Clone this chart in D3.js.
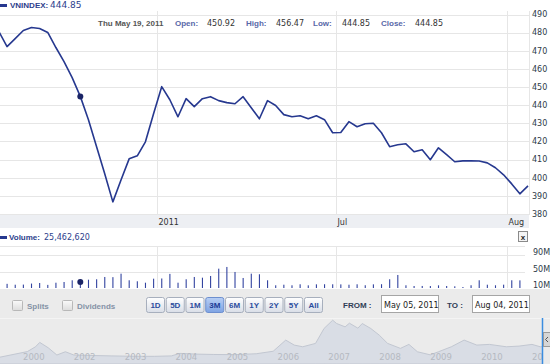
<!DOCTYPE html>
<html>
<head>
<meta charset="utf-8">
<script src="https://cdn.jsdelivr.net/npm/d3@7"></script>
<style>
  body { margin: 0; background: #fff; }
  svg { display: block; font-family: 'DejaVu Sans', Verdana, sans-serif; }
  .bold { font-family: 'Liberation Sans', Arial, sans-serif; font-weight: bold; font-size: 8px; }
</style>
</head>
<body>
<svg id="chart" width="550" height="364"></svg>
<script>
// Data
const symbol = 'VNINDEX';
const startDate = '2011-05-05';
const closes = [
  480.6, 472.3, 476.7, 481.2, 482.8, 482.3, 480.1, 471.8, 464.0, 455.2,
  444.85, 432.0, 417.1, 402.2, 386.7, 398.8, 410.4, 412.1, 419.8, 435.3,
  450.2, 443.0, 433.6, 443.6, 439.2, 443.6, 444.7, 442.5, 441.4, 440.8,
  444.7, 438.6, 432.5, 442.5, 439.8, 434.8, 433.6, 434.2, 432.5, 434.2,
  432.0, 424.8, 424.9, 430.9, 428.1, 429.8, 430.0, 424.8, 417.1, 418.2,
  418.7, 414.3, 415.4, 409.9, 416.5, 412.7, 408.8, 409.3, 409.4, 409.2,
  408.2, 405.5, 401.6, 396.6, 391.1, 395.5
];
// volume in millions
const volumes = [
  21.3, 21.0, 18.9, 19.2, 21.6, 23.0, 18.5, 23.7, 25.4, 29.5,
  25.46, 30.9, 31.9, 37.4, 37.0, 45.3, 29.5, 27.1, 23.7, 33.3,
  33.8, 44.8, 23.7, 31.9, 37.4, 35.7, 39.8, 57.3, 61.4, 49.4,
  35.0, 45.3, 43.9, 29.5, 17.5, 18.9, 17.5, 19.9, 17.4, 19.8,
  20.0, 19.9, 19.7, 18.9, 19.9, 17.6, 19.8, 20.1, 31.9, 42.2,
  17.5, 15.8, 15.9, 15.7, 17.4, 15.8, 15.1, 13.4, 17.6, 29.5,
  18.9, 17.5, 19.0, 29.5, 29.3, 28.0
];
const priceTicks = [380, 390, 400, 410, 420, 430, 440, 450, 460, 470, 480, 490];
const monthLabels = ['2011', 'Jul', 'Aug'];
const volumeTicks = [10, 50, 90];
const hoverIndex = 10;
const hoverLabels = ['Open:', 'High:', 'Low:', 'Close:'];
const hoverValues = [450.92, 456.47, 444.85, 444.85];
const hoverVolume = 25462620;
const rangeButtons = ['1D', '5D', '1M', '3M', '6M', '1Y', '2Y', '5Y', 'All'];
const selectedRange = '3M';
const fromText = 'May 05, 2011';
const toText = 'Aug 04, 2011';
const navDates = [
  '2000-07', '2001-02', '2001-04', '2001-05', '2001-07', '2001-09', '2001-11', '2002-01',
  '2002-06', '2002-10', '2003-03', '2003-08', '2003-12', '2004-02', '2004-06', '2004-10',
  '2005-03', '2005-08', '2005-12', '2006-03', '2006-05', '2006-07', '2006-10', '2006-12',
  '2007-02', '2007-03', '2007-05', '2007-06', '2007-08', '2007-09', '2007-11', '2008-01',
  '2008-03', '2008-06', '2008-08', '2008-10', '2009-01', '2009-03', '2009-06', '2009-09',
  '2009-12', '2010-03', '2010-07', '2010-10', '2011-01', '2011-03', '2011-05', '2011-08'
];
const navValues = [
  120, 290, 425, 547, 397, 195, 286, 195,
  180, 170, 160, 158, 170, 240, 220, 210,
  205, 230, 300, 611, 472, 425, 519, 936,
  1167, 1074, 981, 1083, 944, 1074, 936, 750,
  519, 380, 491, 286, 200, 286, 425, 611,
  472, 491, 425, 444, 491, 425, 450, 400
];
const navYearLabels = ['2000', '2002', '2003', '2004', '2005', '2006', '2007', '2008', '2009', '2010', '2011'];
const navYearTicks = [2001, 2002, 2003, 2004, 2005, 2006, 2007, 2008, 2009, 2010, 2011];

// trading days (weekdays) from the start date
const parseDay = d3.timeParse('%Y-%m-%d');
let dates = [];
let day = parseDay(startDate);
while (dates.length < closes.length) {
  if (day.getDay() !== 0 && day.getDay() !== 6) dates.push(day);
  day = d3.timeDay.offset(day, 1);
}
// first trading day of each month after the first one
const monthStarts = [];
dates.forEach((d, i) => {
  if (i > 0 && d.getMonth() !== dates[i - 1].getMonth()) monthStarts.push(i);
});

const svg = d3.select('#chart');
const lineColor = '#26388f';
const gridColor = '#e6e6e6';
const plotRight = 529;

const x = d3.scaleLinear().domain([0, closes.length - 1]).range([-1.1, 528]);
const y = d3.scaleLinear().domain([380, 490]).range([214, 14.5]);
const yVol = d3.scaleLinear().domain([0, 90]).range([292.6, 255]);
const tickX = i => Math.round(x(i + 0.4)) + 0.5;

const defs = svg.append('defs');
defs.append('clipPath').attr('id', 'priceClip')
  .append('rect').attr('x', 0).attr('y', 10).attr('width', plotRight).attr('height', 205);
defs.append('clipPath').attr('id', 'volClip')
  .append('rect').attr('x', 0).attr('y', 247).attr('width', 525).attr('height', 41);
defs.append('clipPath').attr('id', 'navClip')
  .append('rect').attr('x', 0).attr('y', 319).attr('width', 542).attr('height', 45);
const btnGrad = defs.append('linearGradient').attr('id', 'btnGrad').attr('x2', 0).attr('y2', 1);
btnGrad.append('stop').attr('offset', 0).attr('stop-color', '#ffffff');
btnGrad.append('stop').attr('offset', 1).attr('stop-color', '#d9dee7');
const selGrad = defs.append('linearGradient').attr('id', 'selGrad').attr('x2', 0).attr('y2', 1);
selGrad.append('stop').attr('offset', 0).attr('stop-color', '#b8cff5');
selGrad.append('stop').attr('offset', 1).attr('stop-color', '#7ea3e3');
const boxGrad = defs.append('linearGradient').attr('id', 'boxGrad').attr('x2', 0).attr('y2', 1);
boxGrad.append('stop').attr('offset', 0).attr('stop-color', '#fafafa');
boxGrad.append('stop').attr('offset', 1).attr('stop-color', '#dcdcdc');

// ---- price panel ----
const grid = svg.append('g');
grid.selectAll('.hg').data(priceTicks).enter().append('line')
  .attr('x1', 0).attr('x2', plotRight)
  .attr('y1', d => Math.round(y(d)) + 0.5).attr('y2', d => Math.round(y(d)) + 0.5)
  .attr('stroke', gridColor);
grid.selectAll('.vg').data(monthStarts).enter().append('line')
  .attr('x1', tickX).attr('x2', tickX)
  .attr('y1', 11).attr('y2', 215)
  .attr('stroke', gridColor);
grid.append('line').attr('x1', plotRight + 0.5).attr('x2', plotRight + 0.5)
  .attr('y1', 11).attr('y2', 215).attr('stroke', gridColor);

// x axis band
svg.append('rect').attr('x', 0).attr('y', 215).attr('width', plotRight).attr('height', 13)
  .attr('fill', '#edeff3');
svg.selectAll('.mlab').data(monthStarts).enter().append('text')
  .attr('x', d => tickX(d) + 1).attr('y', 225)
  .attr('font-size', 8).attr('fill', '#333')
  .text((d, i) => monthLabels[i]);

// right axis
svg.selectAll('.ylab').data(priceTicks).enter().append('text')
  .attr('x', 532).attr('y', d => y(d)).attr('dy', '0.35em')
  .attr('font-size', 8).attr('fill', '#2d3a48')
  .text(d => d);

// header
svg.append('rect').attr('x', 0).attr('y', 4).attr('width', 7).attr('height', 3).attr('fill', lineColor);
svg.append('text').attr('class', 'bold').attr('x', 10).attr('y', 8).attr('fill', '#2c3e8c').text(symbol + ':');
svg.append('text').attr('x', 50).attr('y', 8).attr('font-size', 9).attr('fill', '#2c3e8c')
  .text(d3.format('.2f')(closes[hoverIndex]));

const hover = svg.append('g');
hover.append('text').attr('class', 'bold').attr('x', 98).attr('y', 26).attr('fill', '#555')
  .text(d3.timeFormat('%a %b %d, %Y')(dates[hoverIndex]));
const hoverLabelX = [175, 246, 313, 381];
const hoverValueX = [207, 276, 342, 415];
hover.selectAll('.hl').data(hoverLabels).enter().append('text')
  .attr('class', 'bold').attr('x', (d, i) => hoverLabelX[i]).attr('y', 26)
  .attr('fill', '#5868a8').text(d => d);
hover.selectAll('.hv').data(hoverValues).enter().append('text')
  .attr('x', (d, i) => hoverValueX[i]).attr('y', 26)
  .attr('font-size', 8).attr('fill', '#333').text(d => d3.format('.2f')(d));

// price line
const line = d3.line().x((d, i) => x(i)).y(d => y(d));
const pricePlot = svg.append('g').attr('clip-path', 'url(#priceClip)');
pricePlot.append('path').datum(closes)
  .attr('d', line).attr('fill', 'none')
  .attr('stroke', lineColor).attr('stroke-width', 1.6).attr('stroke-linejoin', 'round');
pricePlot.append('circle')
  .attr('cx', x(hoverIndex)).attr('cy', y(closes[hoverIndex])).attr('r', 3)
  .attr('fill', '#1a2466');

// ---- volume panel ----
svg.append('rect').attr('x', 0).attr('y', 236).attr('width', 7).attr('height', 3).attr('fill', lineColor);
svg.append('text').attr('class', 'bold').attr('x', 9).attr('y', 240).attr('fill', '#2c3e8c').text('Volume:');
svg.append('text').attr('x', 44).attr('y', 240).attr('font-size', 8).attr('fill', '#2c3e8c')
  .text(d3.format(',')(hoverVolume));
const closeBtn = svg.append('g');
closeBtn.append('rect').attr('x', 518.5).attr('y', 231.5).attr('width', 9).attr('height', 10)
  .attr('fill', '#f4f4f4').attr('stroke', '#8a8a8a');
closeBtn.append('text').attr('class', 'bold').attr('x', 523).attr('y', 239.5)
  .attr('text-anchor', 'middle').attr('fill', '#222').text('x');

const volGrid = svg.append('g');
volGrid.append('line').attr('x1', 0).attr('x2', 525).attr('y1', 246.5).attr('y2', 246.5).attr('stroke', gridColor);
volGrid.selectAll('.vh').data(volumeTicks.slice(1)).enter().append('line')
  .attr('x1', 0).attr('x2', 525)
  .attr('y1', d => Math.round(yVol(d)) + 0.5).attr('y2', d => Math.round(yVol(d)) + 0.5)
  .attr('stroke', gridColor);
volGrid.selectAll('.vv').data(monthStarts).enter().append('line')
  .attr('x1', tickX).attr('x2', tickX).attr('y1', 247).attr('y2', 288)
  .attr('stroke', gridColor);
svg.selectAll('.vlab').data(volumeTicks).enter().append('text')
  .attr('x', 533).attr('y', d => yVol(d) - 3).attr('dy', '0.35em')
  .attr('font-size', 8).attr('fill', '#2d3a48')
  .text(d => d + 'M');

const volPlot = svg.append('g').attr('clip-path', 'url(#volClip)');
volPlot.selectAll('.bar').data(volumes).enter().append('rect')
  .attr('x', (d, i) => x(i) - 0.5).attr('width', 1.1)
  .attr('y', d => yVol(d)).attr('height', d => yVol(0) - yVol(d))
  .attr('fill', '#3344a0');
volPlot.append('circle')
  .attr('cx', x(hoverIndex)).attr('cy', yVol(volumes[hoverIndex])).attr('r', 3)
  .attr('fill', '#1a2466');

// ---- controls ----
svg.append('rect').attr('x', 0).attr('y', 289).attr('width', 550).attr('height', 75).attr('fill', '#ebebeb');
svg.append('line').attr('x1', 0).attr('x2', 550).attr('y1', 318.5).attr('y2', 318.5).attr('stroke', '#f4f4f4');

const checks = [['Splits', 12], ['Dividends', 62]];
checks.forEach(([label, cx]) => {
  svg.append('rect').attr('x', cx + 0.5).attr('y', 300.5).attr('width', 10).attr('height', 10)
    .attr('rx', 1).attr('fill', 'url(#boxGrad)').attr('stroke', '#b8b8b8');
  svg.append('text').attr('class', 'bold').attr('x', cx + 15).attr('y', 309)
    .attr('fill', '#8592a6').text(label);
});

const btn = svg.selectAll('.btn').data(rangeButtons).enter().append('g')
  .attr('transform', (d, i) => `translate(${146.5 + i * 19.75},297.5)`);
btn.append('rect').attr('width', 18).attr('height', 15).attr('rx', 2)
  .attr('fill', d => d === selectedRange ? 'url(#selGrad)' : 'url(#btnGrad)')
  .attr('stroke', d => d === selectedRange ? '#6d8fcf' : '#a7afbd');
btn.append('text').attr('class', 'bold').attr('x', 9).attr('y', 10.5)
  .attr('text-anchor', 'middle').attr('fill', d => d === selectedRange ? '#1c3a96' : '#2b4c9e')
  .text(d => d);

svg.append('text').attr('class', 'bold').attr('x', 343).attr('y', 308).attr('fill', '#2f3d55').text('FROM :');
svg.append('text').attr('class', 'bold').attr('x', 447).attr('y', 308).attr('fill', '#2f3d55').text('TO :');
[[381, fromText], [472, toText]].forEach(([bx, t]) => {
  svg.append('rect').attr('x', bx + 0.5).attr('y', 295.5).attr('width', 57).attr('height', 17)
    .attr('fill', '#fff').attr('stroke', '#a5a5a5');
  svg.append('text').attr('x', bx + 3).attr('y', 307.5).attr('font-size', 8).attr('fill', '#222').text(t);
});

// ---- navigator ----
const parseMonth = d3.timeParse('%Y-%m');
const navX = d3.scaleTime()
  .domain([new Date(2001, 0, 1), new Date(2011, 0, 1)])
  .range([23, 532]);
const navY = d3.scaleLinear().domain([0, 1200]).range([362, 319]);
const navArea = d3.area()
  .x((d, i) => navX(parseMonth(navDates[i])))
  .y0(364).y1(d => navY(d));
const nav = svg.append('g').attr('clip-path', 'url(#navClip)');
nav.append('path').datum(navValues)
  .attr('d', navArea).attr('fill', '#d9dde5').attr('stroke', '#c2c7d1').attr('stroke-width', 1);
// the last year label runs under the selection handle, as in the original
nav.selectAll('.ny').data(navYearTicks).enter().append('text')
  .attr('x', d => navX(new Date(d, 0, 1))).attr('y', 360)
  .attr('font-size', 8.5).attr('fill', '#b5b9c1')
  .text((d, i) => navYearLabels[i]);

// selection handle at the right end
svg.append('line').attr('x1', 542.5).attr('x2', 542.5).attr('y1', 318).attr('y2', 364)
  .attr('stroke', '#3b8de0').attr('stroke-width', 1.5);
svg.append('rect').attr('x', 543.5).attr('y', 332.5).attr('width', 7).attr('height', 14)
  .attr('fill', '#d6d6d6').attr('stroke', '#9a9a9a');
svg.append('path').attr('d', 'M548,337 L545.5,339.5 L548,342').attr('fill', 'none').attr('stroke', '#555');
</script>
</body>
</html>
